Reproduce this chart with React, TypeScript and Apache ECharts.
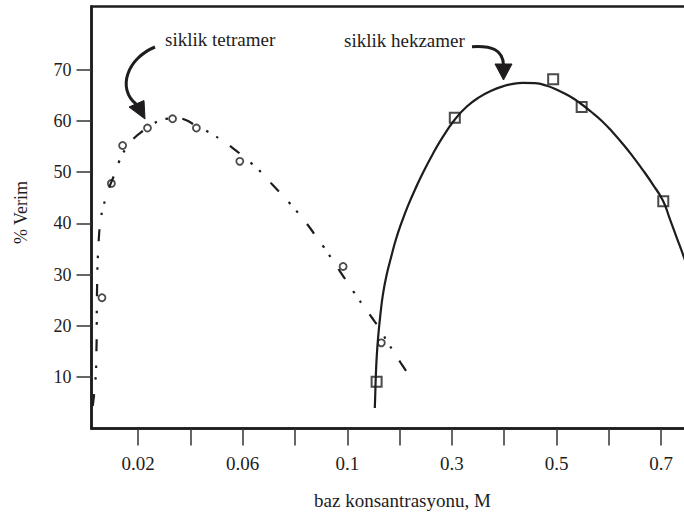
import React, { useEffect, useRef } from "react";
import * as echarts from "echarts";

// Axis scale: the printed axis is piecewise (0.02 steps up to 0.1, then 0.1 steps)
const tickValues = [0.02, 0.04, 0.06, 0.08, 0.1, 0.2, 0.3, 0.4, 0.5, 0.6, 0.7];
const tickLabels = ["0.02", "0.06", "0.1", "0.3", "0.5", "0.7"];
const yTicks = [10, 20, 30, 40, 50, 60, 70];

// siklik tetramer (circles)
const tetramerX = [0.0062, 0.0098, 0.0141, 0.0236, 0.0332, 0.0423, 0.0589, 0.0984, 0.165];
const tetramerY = [25.5, 47.8, 55.2, 58.6, 60.4, 58.6, 52.1, 31.6, 16.7];

// siklik hekzamer (squares)
const hexamerX = [0.156, 0.3055, 0.4935, 0.548, 0.704];
const hexamerY = [9.1, 60.6, 68.1, 62.7, 44.3];

// fitted curves
const tetramerCurveX = [
  0.00268, 0.00344, 0.00394, 0.00409, 0.00421, 0.00421, 0.00432, 0.00451, 0.00497, 0.00554,
  0.00639, 0.00765, 0.00918, 0.0109, 0.013, 0.01568, 0.01874, 0.0218, 0.02486, 0.02792,
  0.03136, 0.0348, 0.03824, 0.04207, 0.04551, 0.04895, 0.05239, 0.05621, 0.06004, 0.06386,
  0.06769, 0.07151, 0.07495, 0.07839, 0.08184, 0.0849, 0.08795, 0.09101, 0.09407, 0.09713,
  0.10096, 0.11625, 0.13155, 0.14684, 0.16214, 0.17552, 0.18891, 0.20229, 0.21759,
];
const tetramerCurveY = [
  4.39, 7.9, 11.41, 15.31, 19.21, 23.11, 27.01, 31.88, 36.76, 40.27,
  42.61, 44.95, 47.29, 49.44, 52.36, 54.9, 56.75, 58.02, 59.09, 59.97,
  60.45, 60.55, 60.16, 59.09, 58.21, 57.23, 56.07, 54.7, 53.14, 51.48,
  49.63, 47.48, 45.63, 43.68, 41.63, 39.68, 37.54, 35.39, 33.05, 30.71,
  28.37, 26.03, 23.79, 21.65, 19.4, 17.06, 14.92, 12.77, 10.43,
];

const hexamerCurveX = [
  0.15258, 0.15354, 0.15449, 0.15641, 0.15927, 0.1631, 0.16788, 0.17457, 0.18317, 0.19273,
  0.20421, 0.21663, 0.23097, 0.24627, 0.26348, 0.2826, 0.30554, 0.32849, 0.35334, 0.37629,
  0.39732, 0.41644, 0.43556, 0.45851, 0.48145, 0.50249, 0.52352, 0.54455, 0.56558, 0.58662,
  0.60765, 0.62677, 0.64589, 0.66501, 0.68413, 0.70325, 0.71664, 0.73002, 0.74341, 0.7587,
];
const hexamerCurveY = [
  4.0, 7.1, 10.2, 14.3, 18.2, 22.1, 26.0, 29.7, 33.2, 36.8,
  40.3, 43.6, 46.94, 50.21, 53.55, 56.86, 60.26, 62.79, 64.68, 65.91,
  66.73, 67.22, 67.41, 67.34, 66.83, 65.95, 64.88, 63.48, 61.82, 59.97,
  57.72, 55.48, 53.04, 50.41, 47.58, 44.46, 40.85, 37.15, 33.44, 28.96,
];

function toAxis(x: number): number {
  const n = tickValues.length;
  let i = 0;
  if (x <= tickValues[0]) i = 0;
  else if (x >= tickValues[n - 1]) i = n - 2;
  else {
    while (i < n - 2 && x > tickValues[i + 1]) i++;
  }
  return i + (x - tickValues[i]) / (tickValues[i + 1] - tickValues[i]);
}

function labelFor(pos: number): string {
  const v = tickValues[Math.round(pos)];
  if (v === undefined) return "";
  const s = String(v);
  return tickLabels.indexOf(s) >= 0 ? s : "";
}

const pairs = (xs: number[], ys: number[]) => xs.map((x, i) => [toAxis(x), ys[i]]);

const FONT = "Liberation Serif";
const INK = "#1e1c1d";

export default function App() {
  const ref = useRef<HTMLDivElement>(null);
  useEffect(() => {
    if (!ref.current) return;
    const chart = echarts.init(ref.current, undefined, { renderer: "svg" });
    chart.setOption({
      animation: false,
      backgroundColor: "#ffffff",
      textStyle: { fontFamily: FONT },
      grid: {
        left: 91.5,
        top: 6.5,
        right: 0.5,
        bottom: 86.5,
        show: true,
        borderColor: INK,
        borderWidth: 2.5,
        backgroundColor: "transparent",
      },
      xAxis: {
        type: "value",
        min: -0.89,
        max: 11,
        name: "baz konsantrasyonu, M",
        nameLocation: "middle",
        nameGap: 62,
        nameTextStyle: { fontFamily: FONT, fontSize: 19, color: INK },
        axisLine: { show: true, onZero: false, lineStyle: { color: INK, width: 2.5 } },
        axisTick: {
          show: true,
          length: 17,
          customValues: tickValues.map((_, i) => i),
          lineStyle: { color: "#333", width: 1.5 },
        },
        axisLabel: {
          show: true,
          margin: 25,
          customValues: tickValues.map((_, i) => i).filter((i) => labelFor(i) !== ""),
          formatter: (v: number) => labelFor(v),
          fontFamily: FONT,
          fontSize: 19,
          color: INK,
        },
        splitLine: { show: false },
      },
      yAxis: {
        type: "value",
        min: 0,
        max: 82.3,
        name: "% Verim",
        nameLocation: "middle",
        nameGap: 62,
        nameRotate: 90,
        nameTextStyle: { fontFamily: FONT, fontSize: 18, color: INK, padding: [0, 0, 0, 10] },
        axisLine: { show: true, onZero: false, lineStyle: { color: INK, width: 2.5 } },
        axisTick: {
          show: true,
          length: 15,
          customValues: yTicks,
          lineStyle: { color: "#333", width: 1.5 },
        },
        axisLabel: {
          show: true,
          margin: 20,
          customValues: yTicks,
          fontFamily: FONT,
          fontSize: 18,
          color: INK,
        },
        splitLine: { show: false },
      },
      series: [
        {
          name: "tetramer curve",
          type: "line",
          data: pairs(tetramerCurveX, tetramerCurveY),
          smooth: 0.4,
          showSymbol: false,
          silent: true,
          lineStyle: { color: INK, width: 2.2, type: [12, 14.5, 2.5, 9, 2.5, 14.5] },
        },
        {
          name: "hekzamer curve",
          type: "line",
          data: pairs(hexamerCurveX, hexamerCurveY),
          smooth: 0.5,
          showSymbol: false,
          silent: true,
          lineStyle: { color: INK, width: 2.2 },
        },
        {
          name: "siklik tetramer",
          type: "scatter",
          data: pairs(tetramerX, tetramerY),
          symbol: "circle",
          symbolSize: 7,
          itemStyle: { color: "rgba(255,255,255,0)", borderColor: INK, borderWidth: 1.8 },
        },
        {
          name: "siklik hekzamer",
          type: "scatter",
          data: pairs(hexamerX, hexamerY),
          symbol: "rect",
          symbolSize: 10,
          itemStyle: { color: "rgba(255,255,255,0)", borderColor: INK, borderWidth: 2 },
        },
      ],
      graphic: [
        {
          type: "text",
          style: {
            x: 165,
            y: 39.6,
            text: "siklik tetramer",
            fontFamily: FONT,
            fontSize: 19,
            fill: INK,
            textAlign: "left",
            textVerticalAlign: "middle",
          },
        },
        {
          type: "text",
          style: {
            x: 344,
            y: 40.9,
            text: "siklik hekzamer",
            fontFamily: FONT,
            fontSize: 19,
            fill: INK,
            textAlign: "left",
            textVerticalAlign: "middle",
          },
        },
        {
          type: "bezierCurve",
          shape: { x1: 155, y1: 47, cpx1: 128, cpy1: 58, cpx2: 116, cpy2: 88, x2: 136.5, y2: 104.5 },
          style: { stroke: INK, lineWidth: 3, fill: null },
        },
        {
          type: "polygon",
          shape: { points: [[129, 107], [144, 100.5], [145, 119]] },
          style: { fill: INK, stroke: INK, lineWidth: 1 },
        },
        {
          type: "bezierCurve",
          shape: { x1: 472, y1: 46.7, cpx1: 492, cpy1: 45.5, cpx2: 503, cpy2: 50, x2: 503.5, y2: 65 },
          style: { stroke: INK, lineWidth: 3, fill: null },
        },
        {
          type: "polygon",
          shape: { points: [[495, 64], [512, 64], [503.5, 80]] },
          style: { fill: INK, stroke: INK, lineWidth: 1 },
        },
      ],
    });
    return () => chart.dispose();
  }, []);
  return (
    <div
      ref={ref}
      style={{ position: "fixed", left: 0, top: 0, width: 714, height: 515, background: "#fff" }}
    />
  );
}
